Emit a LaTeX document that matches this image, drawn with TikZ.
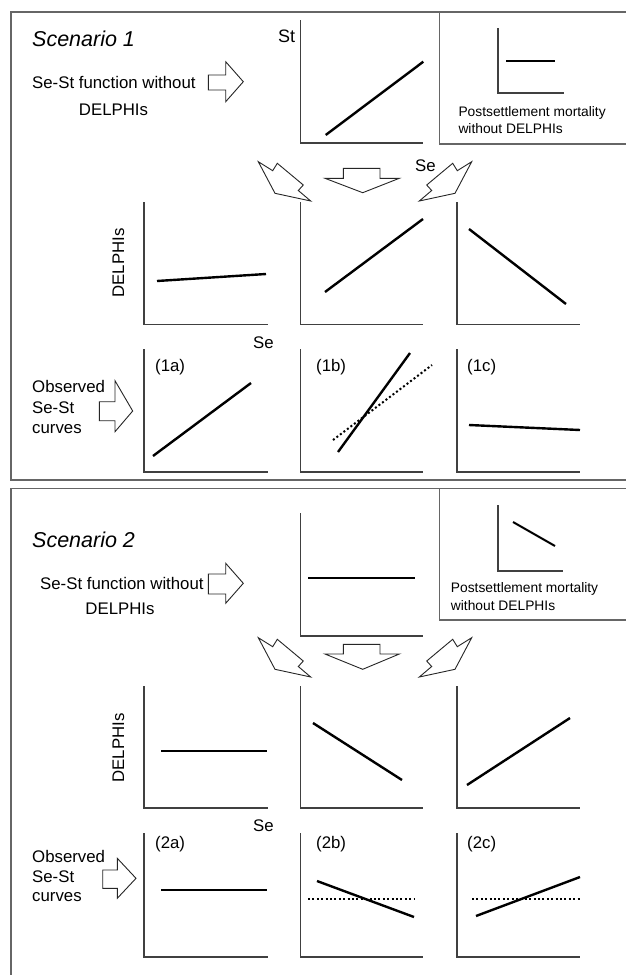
\documentclass[tikz,border=0pt]{standalone}
\usepackage{fontspec}
\setmainfont{Liberation Sans}
\begin{document}
\begin{tikzpicture}[x=1pt,y=-1pt,
  frame/.style={draw=black!60, line width=1.4pt},
  axis/.style={draw=black!75, line width=1.2pt},
  curve/.style={draw=black, line width=2.4pt},
  dcurve/.style={draw=black, line width=2pt, dash pattern=on 2pt off 2.4pt},
  barrow/.style={draw=black!85, line width=0.9pt, fill=white, line join=miter},
  txt/.style={inner sep=0pt, font=\fontsize{16.8}{19}\selectfont},
  ttl/.style={inner sep=0pt, font=\fontsize{21.5}{24}\selectfont\itshape},
  small/.style={inner sep=0pt, font=\fontsize{13.8}{16}\selectfont}]
\useasboundingbox (0,0) rectangle (625,975);
\fill[white] (0,0) rectangle (625,975);

% ---------- frames ----------
\draw[frame] (632,12) -- (11,12) -- (11,480) -- (632,480);
\draw[frame] (632,488.7) -- (11,488.7) -- (11,985);
\draw[frame] (632,144) -- (439.3,144) -- (439.3,12);
\draw[frame] (632,620) -- (439.3,620) -- (439.3,488.7);

% =================== SCENARIO 1 ===================
\node[ttl, anchor=base west] (sc1) at (32,46.7) {Scenario 1};
\node[txt, anchor=base west] (fa1) at (32,88.3) {Se-St function without};
\node[txt, anchor=base] (fb1) at (113.5,115) {DELPHIs};
\draw[barrow] (208.3,75) -- (225.7,75) -- (225.7,61.7) -- (243.3,81.7) -- (225.7,101.7) -- (225.7,90) -- (208.3,90) -- cycle;

% St plot
\node[txt, anchor=base west, font=\fontsize{18}{20}\selectfont] (st1) at (278,42.7) {St};
\draw[axis] (300.5,20) -- (300.5,143) -- (423,143);
\draw[curve] (325.7,135) -- (423.3,61.7);
\node[txt, anchor=base west] (se1) at (415,171.7) {Se};

% postsettlement box
\draw[axis] (498,28) -- (498,93) -- (564,93);
\draw[curve, line width=2pt] (506,61) -- (555,61);
\node[small, anchor=base west] (pm1a) at (458.3,116.7) {Postsettlement mortality};
\node[small, anchor=base west] (pm1b) at (458.3,133.3) {without DELPHIs};

% block arrows down
\draw[barrow] (258.3,161.7) -- (272.7,170.7) -- (277.3,163.3) -- (303.3,185) -- (298.3,190.5) -- (310.7,201) -- (275,193.3) -- cycle;
\draw[barrow] (343.3,168.3) -- (380,168.3) -- (380,178.3) -- (399.3,178.3) -- (362.7,192.7) -- (325,178.3) -- (343.3,178.3) -- cycle;
\draw[barrow] (471.7,161.7) -- (457.3,170.7) -- (452.7,163.3) -- (426.7,185) -- (431.7,190.5) -- (419.3,201) -- (455,193.3) -- cycle;

% row 2
\node[txt, rotate=90] (dl1) at (118.5,263) {DELPHIs};
\draw[axis] (144,202) -- (144,324.5) -- (268,324.5);
\draw[axis] (300.5,202) -- (300.5,324.5) -- (423,324.5);
\draw[axis] (457,202) -- (457,324.5) -- (580,324.5);
\draw[curve] (157,281) -- (266,274);
\draw[curve] (325,292) -- (423,219);
\draw[curve] (469,229) -- (566,304);
\node[txt, anchor=base west] (se2) at (253,348) {Se};

% row 3
\node[txt, anchor=base west] (ob1a) at (32,392.7) {Observed};
\node[txt, anchor=base west] (ob1b) at (32,413.5) {Se-St};
\node[txt, anchor=base west] (ob1c) at (32,433.5) {curves};
\draw[barrow] (99.3,401.7) -- (115,401.7) -- (115,380.7) -- (132.7,411) -- (115,431.7) -- (115,420.7) -- (99.3,420.7) -- cycle;
\draw[axis] (144,349) -- (144,472) -- (268,472);
\draw[axis] (300.5,349) -- (300.5,472) -- (423,472);
\draw[axis] (457,349) -- (457,472) -- (580,472);
\node[txt, anchor=base west] (l1a) at (155,371.7) {(1a)};
\node[txt, anchor=base west] (l1b) at (316,371.7) {(1b)};
\node[txt, anchor=base west] (l1c) at (467,371.7) {(1c)};
\draw[curve] (153,456) -- (251,383);
\draw[dcurve] (333,440) -- (432,365);
\draw[curve] (338,452) -- (410,353);
\draw[curve] (469,425) -- (580,430);

% =================== SCENARIO 2 ===================
\node[ttl, anchor=base west] (sc2) at (32,547) {Scenario 2};
\node[txt, anchor=base west] (fa2) at (40,589) {Se-St function without};
\node[txt, anchor=base] (fb2) at (120,614) {DELPHIs};
\draw[barrow] (208.3,574) -- (225.7,574) -- (225.7,563.3) -- (243.3,583.3) -- (225.7,603.3) -- (225.7,594) -- (208.3,594) -- cycle;

% St plot
\draw[axis] (300.5,513) -- (300.5,636) -- (423,636);
\draw[curve] (308,578) -- (415,578);

% postsettlement box
\draw[axis] (498,505) -- (498,571) -- (563,571);
\draw[curve, line width=2pt] (513,522) -- (555,546);
\node[small, anchor=base west] (pm2a) at (450.7,592.5) {Postsettlement mortality};
\node[small, anchor=base west] (pm2b) at (450.7,610) {without DELPHIs};

% block arrows down
\draw[barrow] (258.3,637.7) -- (272.7,646.7) -- (277.3,639.3) -- (303.3,661) -- (298.3,666.5) -- (310.7,677) -- (275,669.3) -- cycle;
\draw[barrow] (343.3,644.3) -- (380,644.3) -- (380,654) -- (399.3,654) -- (362.7,669.3) -- (325,654) -- (343.3,654) -- cycle;
\draw[barrow] (471.7,637.7) -- (457.3,646.7) -- (452.7,639.3) -- (426.7,661) -- (431.7,666.5) -- (419.3,677) -- (455,669.3) -- cycle;

% row 2
\node[txt, rotate=90] (dl2) at (118.5,748) {DELPHIs};
\draw[axis] (144,686) -- (144,808) -- (268,808);
\draw[axis] (300.5,686) -- (300.5,808) -- (423,808);
\draw[axis] (457,686) -- (457,808) -- (580,808);
\draw[curve] (161,751) -- (267,751);
\draw[curve] (313,723) -- (402,780);
\draw[curve] (467,785) -- (570,718);
\node[txt, anchor=base west] (se3) at (253,831) {Se};

% row 3
\node[txt, anchor=base west] (ob2a) at (32,862.7) {Observed};
\node[txt, anchor=base west] (ob2b) at (32,882) {Se-St};
\node[txt, anchor=base west] (ob2c) at (32,901.5) {curves};
\draw[barrow] (102.7,870) -- (117.3,870) -- (117.3,858.3) -- (136,878.3) -- (117.3,898.3) -- (117.3,888.3) -- (102.7,888.3) -- cycle;
\draw[axis] (144,833) -- (144,957) -- (268,957);
\draw[axis] (300.5,833) -- (300.5,957) -- (423,957);
\draw[axis] (457,833) -- (457,957) -- (580,957);
\node[txt, anchor=base west] (l2a) at (155,848) {(2a)};
\node[txt, anchor=base west] (l2b) at (316,848) {(2b)};
\node[txt, anchor=base west] (l2c) at (467,848) {(2c)};
\draw[curve] (161,890) -- (267,890);
\draw[dcurve] (308,899) -- (415,899);
\draw[curve] (317,881) -- (414,917);
\draw[dcurve] (472,899) -- (580,899);
\draw[curve] (476,916) -- (580,877);
\end{tikzpicture}
\end{document}
